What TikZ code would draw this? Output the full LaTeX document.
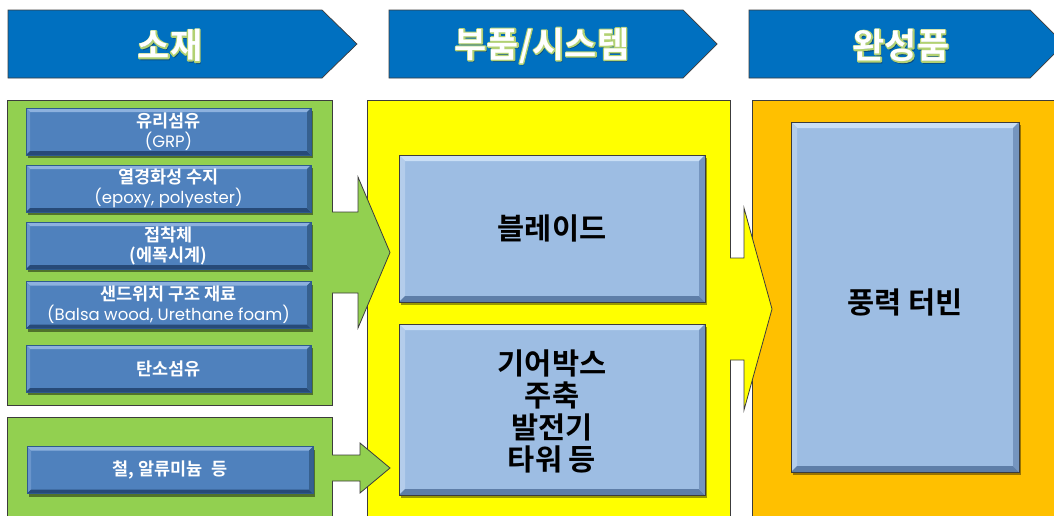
\documentclass[tikz,border=0pt]{standalone}
\usepackage{fontspec}
\setmainfont{Poppins}
\newfontfamily\kr{Noto Sans CJK KR}
\newfontfamily\krb{Noto Sans CJK KR Bold}
\usetikzlibrary{calc,shadows}
\definecolor{hdrblue}{HTML}{0070C0}
\definecolor{grn}{HTML}{92D050}
\definecolor{yel}{HTML}{FFFF00}
\definecolor{org}{HTML}{FFC000}
\definecolor{itm}{HTML}{4F81BD}
\definecolor{itmT}{HTML}{8DB1DE}
\definecolor{itmL}{HTML}{6A95CB}
\definecolor{itmB}{HTML}{274A78}
\definecolor{itmR}{HTML}{36608F}
\definecolor{itmE}{HTML}{2E5A8E}
\definecolor{lb}{HTML}{9DBDE3}
\definecolor{lbT}{HTML}{CADFF5}
\definecolor{lbL}{HTML}{B4CDEB}
\definecolor{lbB}{HTML}{5E7EA8}
\definecolor{lbR}{HTML}{7595BF}
\definecolor{edge}{HTML}{3C3C3C}
\definecolor{hdrshadow}{HTML}{0A4A7E}
\tikzset{
  hdr/.style={fill=hdrblue, draw=edge, line width=0.7pt},
  hdrfont/.style={font=\krb\fontsize{35}{38}\selectfont, inner sep=0pt, text=white},
  outer/.style={draw=edge, line width=0.8pt, inner sep=0pt, outer sep=0pt},
  itembox/.style={fill=itm, draw=itmE, line width=0.6pt, inner sep=0pt, outer sep=0pt,
    minimum width=285pt, minimum height=47pt,
    drop shadow={shadow xshift=2pt, shadow yshift=-3pt, opacity=0.45, fill=black}},
  itemtext/.style={inner sep=0pt, text=white, align=center,
    font=\krb\fontsize{17.5}{20}\selectfont},
  lbbox/.style={fill=lb, draw=edge, line width=0.8pt, inner sep=0pt, outer sep=0pt,
    drop shadow={shadow xshift=2pt, shadow yshift=-3pt, opacity=0.4, fill=black}},
  bigtext/.style={font=\krb\fontsize{29.5}{32}\selectfont, align=center, text=black},
  arrowline/.style={draw=edge, line width=0.8pt, line join=miter}
}
\newcommand\bevel[7]{%
 \fill[#3] (#1.north west) -- (#1.north east) -- ($(#1.north east)+(-#2,#2)$) -- ($(#1.north west)+(#2,#2)$) -- cycle;
 \fill[#4] (#1.north west) -- ($(#1.north west)+(#2,#2)$) -- ($(#1.south west)+(#2,-#2)$) -- (#1.south west) -- cycle;
 \fill[#5] (#1.south west) -- (#1.south east) -- ($(#1.south east)+(-#2,-#2)$) -- ($(#1.south west)+(#2,-#2)$) -- cycle;
 \fill[#6] (#1.north east) -- ($(#1.north east)+(-#2,#2)$) -- ($(#1.south east)+(-#2,-#2)$) -- (#1.south east) -- cycle;
 \draw[#7, line width=0.6pt] (#1.north west) rectangle (#1.south east);
}
% header lettering: soft shadow, light green rim (stroke only), white letters -- one node
\newcommand\rim[1]{\special{pdf:literal direct 1 Tr 2.4 w 1 J 1 j 0.70 0.82 0.45 RG}#1\special{pdf:literal direct 0 Tr}}
\newcommand\hdrword[1]{%
  \rlap{\kern1.5pt\raisebox{-2.5pt}{\textcolor{hdrshadow}{#1}}}%
  \rlap{\rim{#1}}#1}
\newcommand\latin[1]{{\rmfamily\fontsize{16.5}{20}\selectfont #1}}
\begin{document}
\begin{tikzpicture}[x=1pt,y=-1pt]
\useasboundingbox (0,0) rectangle (1054,515);
\fill[white] (0,0) rectangle (1054,515);

% headers
\draw[hdr] (8,10) -- (322,10) -- (357,44) -- (322,78) -- (8,78) -- cycle;
\draw[hdr] (389,10) -- (683,10) -- (717,44) -- (683,78) -- (389,78) -- cycle;
\draw[hdr] (749,10) -- (1030,10) -- (1064,44) -- (1030,78) -- (749,78) -- cycle;
\node[hdrfont] (h1) at (170,47) {\hdrword{소재}};
\node[hdrfont] (h2) at (542,47) {\hdrword{부품/시스템}};
\node[hdrfont] (h3) at (901,47) {\hdrword{완성품}};

% outer boxes
\node[outer, fill=grn, minimum width=325pt, minimum height=305pt] (g1) at (169.5,252.5) {};
\node[outer, fill=grn, minimum width=325pt, minimum height=110pt] (g2) at (169.5,472) {};
\node[outer, fill=yel, minimum width=363pt, minimum height=430pt] (Y) at (548.5,315) {};
\node[outer, fill=org, minimum width=312pt, minimum height=430pt] (O) at (908,315) {};

% arrows
\coordinate (a1) at (g1.east);
\fill[grn] ($(a1)+(-1.2,-40.5)$) -- ($(a1)+(26,-40.5)$) -- ($(a1)+(26,-75.5)$) -- ($(a1)+(58,0)$) -- ($(a1)+(26,75.5)$) -- ($(a1)+(26,40.5)$) -- ($(a1)+(-1.2,40.5)$) -- cycle;
\draw[arrowline] ($(a1)+(0,-40.5)$) -- ($(a1)+(26,-40.5)$) -- ($(a1)+(26,-75.5)$) -- ($(a1)+(58,0)$) -- ($(a1)+(26,75.5)$) -- ($(a1)+(26,40.5)$) -- ($(a1)+(0,40.5)$);

\coordinate (a2) at (g2.east|-0,468);
\fill[grn] ($(a2)+(-1.2,-13)$) -- ($(a2)+(28,-13)$) -- ($(a2)+(28,-25)$) -- ($(a2)+(58,0)$) -- ($(a2)+(28,25)$) -- ($(a2)+(28,13)$) -- ($(a2)+(-1.2,13)$) -- cycle;
\draw[arrowline] ($(a2)+(0,-13)$) -- ($(a2)+(28,-13)$) -- ($(a2)+(28,-25)$) -- ($(a2)+(58,0)$) -- ($(a2)+(28,25)$) -- ($(a2)+(28,13)$) -- ($(a2)+(0,13)$);

\coordinate (a3) at (Y.east|-0,309);
\fill[yel] ($(a3)+(-1.2,-51)$) -- ($(a3)+(14,-51)$) -- ($(a3)+(14,-101)$) -- ($(a3)+(42,0)$) -- ($(a3)+(14,101)$) -- ($(a3)+(14,51)$) -- ($(a3)+(-1.2,51)$) -- cycle;
\draw[arrowline] ($(a3)+(0,-51)$) -- ($(a3)+(14,-51)$) -- ($(a3)+(14,-101)$) -- ($(a3)+(42,0)$) -- ($(a3)+(14,101)$) -- ($(a3)+(14,51)$) -- ($(a3)+(0,51)$);

% material items
\node[itembox] (i1) at (168.5,131.5) {};
\node[itembox] (i2) at (168.5,188.5) {};
\node[itembox] (i3) at (168.5,245.5) {};
\node[itembox] (i4) at (168.5,305) {};
\node[itembox] (i5) at (168.5,368.5) {};
\node[itembox, minimum width=286pt] (i6) at (170,470) {};
\foreach \n in {i1,i2,i3,i4,i5,i6}{\bevel{\n}{4}{itmT}{itmL}{itmB}{itmR}{itmE}}
\node[itemtext] (t1) at (i1) {유리섬유\\\latin{(GRP)}};
\node[itemtext] (t2) at (i2) {열경화성 수지\\\latin{(epoxy, polyester)}};
\node[itemtext] (t3) at (i3) {접착체\\(에폭시계)};
\node[itemtext] (t4) at (i4) {샌드위치 구조 재료\\\latin{(Balsa wood, Urethane foam)}};
\node[itemtext] (t5) at (i5) {탄소섬유};
\node[itemtext] (t6) at (i6) {철, 알류미늄\ \ 등};

% part / system boxes
\node[lbbox, minimum width=306pt, minimum height=147pt] (blade) at (552,228.5) {};
\node[lbbox, minimum width=306pt, minimum height=171pt] (gear) at (552,409.5) {};
\node[lbbox, minimum width=228pt, minimum height=350pt] (turb) at (905,297) {};
\foreach \n in {blade,gear,turb}{\bevel{\n}{6}{lbT}{lbL}{lbB}{lbR}{edge}}
\node[bigtext] (bladet) at (blade) {블레이드};
\node[bigtext] (geart) at (552,411) {기어박스\\주축\\발전기\\타워 등};
\node[bigtext] (turbt) at (905,302) {풍력 터빈};
\end{tikzpicture}
\end{document}
